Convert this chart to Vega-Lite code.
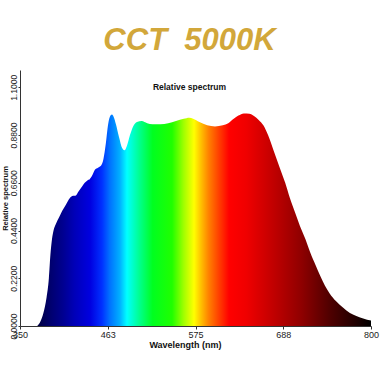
{
  "$schema": "https://vega.github.io/schema/vega-lite/v6.json",
  "width": 351,
  "height": 256,
  "autosize": {"type": "none"},
  "padding": {"left": 20, "top": 70, "right": 9, "bottom": 54},
  "background": "white",
  "title": {
    "text": "CCT\u00a0 5000K",
    "subtitle": "Relative spectrum",
    "anchor": "middle",
    "frame": "group",
    "dx": -6,
    "font": "Liberation Sans",
    "fontSize": 31,
    "fontWeight": "bold",
    "fontStyle": "italic",
    "color": "#D2A73A",
    "subtitleFont": "Liberation Sans",
    "subtitleFontSize": 8.5,
    "subtitleFontWeight": "bold",
    "subtitleColor": "#111111",
    "subtitlePadding": 26,
    "offset": -22
  },
  "data": {
    "values": [
      {"nm": 372, "val": 0},
      {"nm": 376, "val": 0.02},
      {"nm": 380, "val": 0.06},
      {"nm": 384, "val": 0.13},
      {"nm": 387, "val": 0.22},
      {"nm": 389, "val": 0.33},
      {"nm": 391, "val": 0.4},
      {"nm": 393, "val": 0.44},
      {"nm": 396, "val": 0.47},
      {"nm": 400, "val": 0.5},
      {"nm": 404, "val": 0.53},
      {"nm": 409, "val": 0.56},
      {"nm": 414, "val": 0.59},
      {"nm": 418, "val": 0.6},
      {"nm": 421, "val": 0.6},
      {"nm": 425, "val": 0.62},
      {"nm": 430, "val": 0.645},
      {"nm": 433, "val": 0.66},
      {"nm": 436, "val": 0.67},
      {"nm": 439, "val": 0.675},
      {"nm": 442, "val": 0.69},
      {"nm": 446, "val": 0.72},
      {"nm": 450, "val": 0.73},
      {"nm": 454, "val": 0.74},
      {"nm": 457, "val": 0.77},
      {"nm": 460, "val": 0.84},
      {"nm": 463, "val": 0.93},
      {"nm": 466, "val": 0.97},
      {"nm": 468, "val": 0.975},
      {"nm": 470, "val": 0.965},
      {"nm": 473, "val": 0.93},
      {"nm": 477, "val": 0.87},
      {"nm": 481, "val": 0.82},
      {"nm": 484, "val": 0.81},
      {"nm": 487, "val": 0.83},
      {"nm": 491, "val": 0.88},
      {"nm": 495, "val": 0.92},
      {"nm": 500, "val": 0.94},
      {"nm": 506, "val": 0.945},
      {"nm": 513, "val": 0.935},
      {"nm": 520, "val": 0.93},
      {"nm": 530, "val": 0.93},
      {"nm": 540, "val": 0.935},
      {"nm": 550, "val": 0.945},
      {"nm": 560, "val": 0.955},
      {"nm": 567, "val": 0.96},
      {"nm": 572, "val": 0.955},
      {"nm": 580, "val": 0.94},
      {"nm": 590, "val": 0.925},
      {"nm": 600, "val": 0.92},
      {"nm": 610, "val": 0.925},
      {"nm": 617, "val": 0.935},
      {"nm": 624, "val": 0.955},
      {"nm": 630, "val": 0.97},
      {"nm": 637, "val": 0.98},
      {"nm": 644, "val": 0.978},
      {"nm": 650, "val": 0.968},
      {"nm": 656, "val": 0.95},
      {"nm": 662, "val": 0.925},
      {"nm": 668, "val": 0.88},
      {"nm": 675, "val": 0.81},
      {"nm": 683, "val": 0.73},
      {"nm": 690, "val": 0.66},
      {"nm": 696, "val": 0.59},
      {"nm": 703, "val": 0.52},
      {"nm": 709, "val": 0.46},
      {"nm": 716, "val": 0.4},
      {"nm": 722, "val": 0.34},
      {"nm": 729, "val": 0.28},
      {"nm": 735, "val": 0.23},
      {"nm": 741, "val": 0.185},
      {"nm": 747, "val": 0.15},
      {"nm": 755, "val": 0.115},
      {"nm": 764, "val": 0.085},
      {"nm": 773, "val": 0.06},
      {"nm": 782, "val": 0.045},
      {"nm": 790, "val": 0.035},
      {"nm": 800, "val": 0.025}
    ]
  },
  "mark": {
    "type": "area",
    "interpolate": "monotone",
    "color": {
      "gradient": "linear",
      "x1": 0, "y1": 0, "x2": 1, "y2": 0,
      "stops": [
        {"offset": 0, "color": "#000040"},
        {"offset": 0.042, "color": "#000070"},
        {"offset": 0.077, "color": "#000090"},
        {"offset": 0.112, "color": "#0000B8"},
        {"offset": 0.159, "color": "#0000E0"},
        {"offset": 0.194, "color": "#0030FF"},
        {"offset": 0.217, "color": "#0070FF"},
        {"offset": 0.248, "color": "#00B0FF"},
        {"offset": 0.269, "color": "#00FFFF"},
        {"offset": 0.306, "color": "#00FF90"},
        {"offset": 0.346, "color": "#00FF20"},
        {"offset": 0.404, "color": "#20FF00"},
        {"offset": 0.439, "color": "#A0FF00"},
        {"offset": 0.47, "color": "#FFFF00"},
        {"offset": 0.491, "color": "#FFC000"},
        {"offset": 0.514, "color": "#FF8000"},
        {"offset": 0.544, "color": "#FF4000"},
        {"offset": 0.575, "color": "#FF0000"},
        {"offset": 0.626, "color": "#F00000"},
        {"offset": 0.696, "color": "#C80000"},
        {"offset": 0.79, "color": "#900000"},
        {"offset": 0.876, "color": "#500000"},
        {"offset": 0.953, "color": "#200000"},
        {"offset": 1, "color": "#000000"}
      ]
    }
  },
  "encoding": {
    "x": {
      "field": "nm",
      "type": "quantitative",
      "scale": {"domain": [350, 800], "nice": false, "zero": false},
      "axis": {
        "title": "Wavelength (nm)",
        "values": [350, 462.5, 575, 687.5, 800],
        "format": ".0f",
        "grid": false,
        "titleX": 165,
        "titlePadding": 1,
        "labelPadding": 1,
        "tickSize": 3
      }
    },
    "y": {
      "field": "val",
      "type": "quantitative",
      "scale": {"domain": [0, 1.18], "nice": false},
      "axis": {
        "title": "Relative spectrum",
        "values": [0, 0.22, 0.44, 0.66, 0.88, 1.1],
        "format": ".4f",
        "grid": false,
        "labelAngle": -90,
        "labelAlign": "center",
        "labelBaseline": "bottom",
        "labelPadding": 0,
        "titlePadding": 0,
        "tickSize": 2,
        "labelFontSize": 8.5,
        "titleFontSize": 7.5
      }
    }
  },
  "config": {
    "view": {"stroke": null},
    "font": "Liberation Sans",
    "axis": {
      "domainColor": "#333333",
      "tickColor": "#333333",
      "labelColor": "#222222",
      "titleColor": "#111111",
      "labelFont": "Liberation Sans",
      "titleFont": "Liberation Sans",
      "labelFontSize": 9,
      "titleFontSize": 9,
      "titleFontWeight": "bold",
      "labelFlush": false,
      "labelOverlap": false
    }
  }
}
